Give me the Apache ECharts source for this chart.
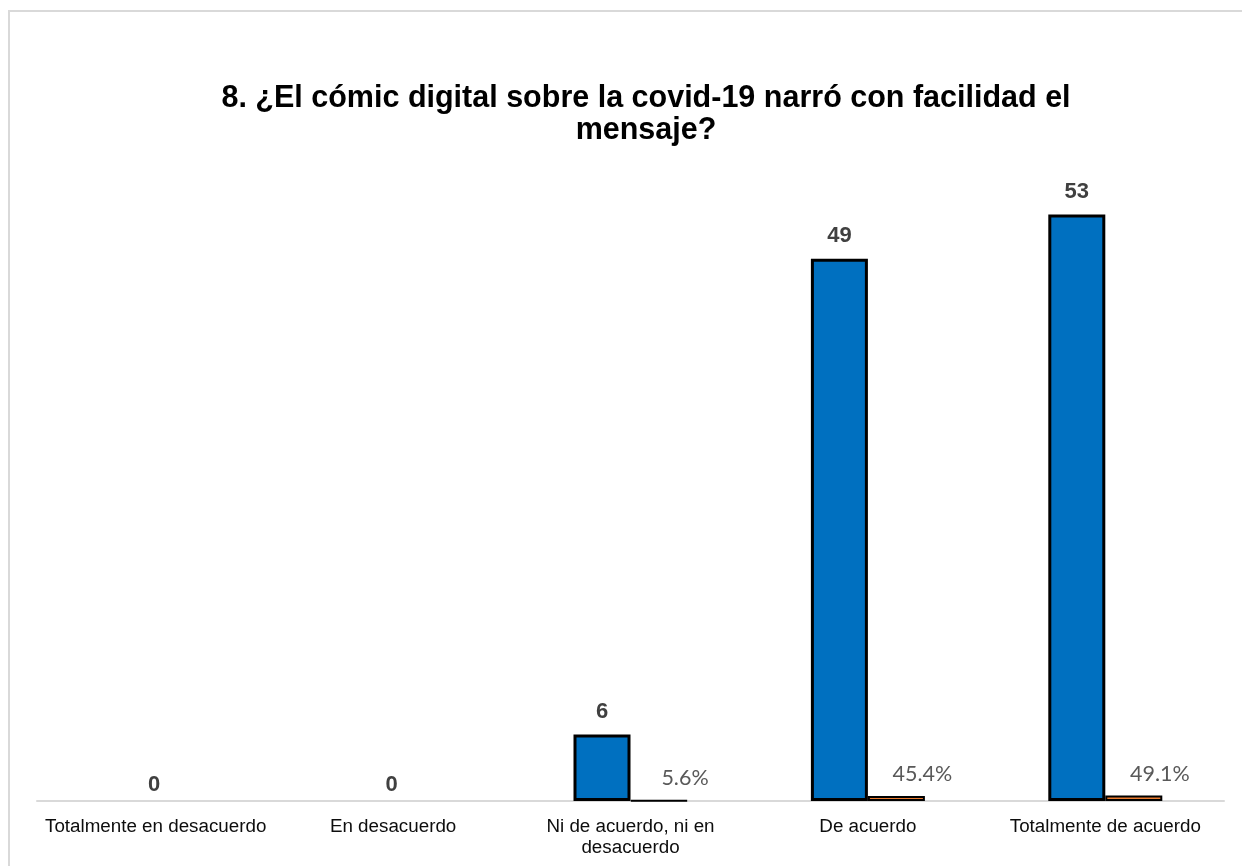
<!DOCTYPE html>
<html>
<head>
<meta charset="utf-8">
<script src="https://cdn.jsdelivr.net/npm/echarts@6/dist/echarts.min.js"></script>
<style>
  html, body { margin: 0; padding: 0; background: #ffffff; }
  #chart { width: 1242px; height: 866px; }
</style>
</head>
<body>
<div id="chart"></div>
<script>
// Survey answers: number of respondents and share of the total
const categories = [
  'Totalmente en desacuerdo',
  'En desacuerdo',
  'Ni de acuerdo, ni en\ndesacuerdo',
  'De acuerdo',
  'Totalmente de acuerdo'
];
const counts = [0, 0, 6, 49, 53];
const shares = [null, null, 0.056, 0.454, 0.491];

const SANS = "'Liberation Sans', Arial, sans-serif";

const chart = echarts.init(document.getElementById('chart'), null, { renderer: 'canvas' });

// zero-height bars: no outline, label kept over the middle of the category
const countData = counts.map(v => v === 0
  ? { value: v, itemStyle: { borderWidth: 0 }, label: { offset: [27, 7] } }
  : v);

chart.setOption({
  animation: false,
  backgroundColor: '#ffffff',
  graphic: [{
    type: 'rect',
    shape: { x: 9, y: 11, width: 1260, height: 880 },
    style: { fill: 'none', stroke: '#d9d9d9', lineWidth: 2 },
    silent: true
  }],
  title: {
    text: '8. ¿El cómic digital sobre la covid-19 narró con facilidad el\nmensaje?',
    left: 641,
    top: 78,
    textAlign: 'center',
    textStyle: {
      fontFamily: SANS,
      fontSize: 30.5,
      fontWeight: 'bold',
      color: '#000000',
      lineHeight: 32
    }
  },
  grid: { left: 37, right: 18, top: 137, bottom: 65, containLabel: false },
  xAxis: {
    type: 'category',
    data: categories,
    axisLine: { lineStyle: { color: '#d9d9d9', width: 2 } },
    axisTick: { show: false },
    axisLabel: {
      interval: 0,
      margin: 15,
      fontFamily: SANS,
      fontSize: 18.8,
      lineHeight: 21,
      color: '#0d0d0d'
    }
  },
  yAxis: {
    type: 'value',
    min: 0,
    max: 60,
    show: false,
    splitLine: { show: false }
  },
  series: [
    {
      name: 'Frecuencia',
      type: 'bar',
      data: countData,
      barWidth: 57,
      barGap: '0%',
      itemStyle: { color: '#0070C0', borderColor: '#000000', borderWidth: 3 },
      label: {
        show: true,
        position: 'top',
        distance: 12,
        fontFamily: SANS,
        fontSize: 22,
        fontWeight: 'bold',
        color: '#404040'
      }
    },
    {
      name: 'Porcentaje',
      type: 'bar',
      data: shares,
      barWidth: 57,
      barGap: '0%',
      itemStyle: { color: '#ED7D31', borderColor: '#000000', borderWidth: 2 },
      label: {
        show: true,
        position: 'top',
        distance: 6,
        offset: [26, -5],
        fontFamily: "Lato, 'Open Sans', sans-serif",
        fontSize: 21.5,
        color: '#595959',
        formatter: p => (p.value * 100).toFixed(1) + '%'
      }
    }
  ]
});
</script>
</body>
</html>
